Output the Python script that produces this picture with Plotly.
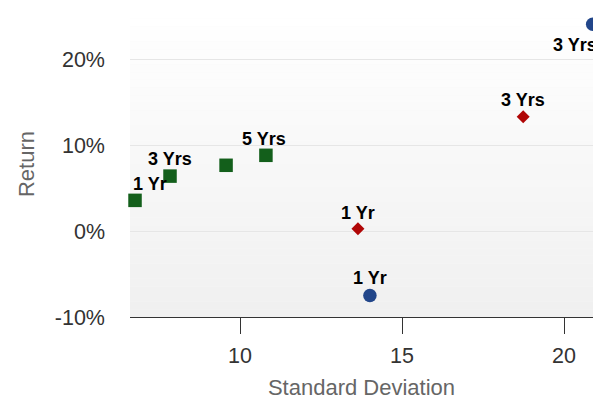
import plotly.graph_objects as go

# ---- data ----
green_x = [6.76, 7.84, 9.57, 10.80]
green_y = [3.57, 6.39, 7.65, 8.81]
green_labels = ["1 Yr", "3 Yrs", "", "5 Yrs"]

red_x = [13.64, 18.74]
red_y = [0.28, 13.3]
red_labels = ["1 Yr", "3 Yrs"]

blue_x = [14.01, 20.885]
blue_y = [-7.49, 24.06]
blue_labels = ["1 Yr", "3 Yrs"]

x_range = [6.605, 20.895]
y_range = [-10, 25.6]
y_ticks = [-10, 0, 10, 20]
y_tick_text = ["-10%", "0%", "10%", "20%"]
x_ticks = [10, 15, 20]

FONT = "Liberation Sans, Arial, sans-serif"

fig = go.Figure()

fig.add_trace(go.Scatter(x=green_x, y=green_y, mode="markers",
                         marker=dict(symbol="square", size=13.5, color="#135f1b"),
                         cliponaxis=False, showlegend=False, hoverinfo="skip"))
fig.add_trace(go.Scatter(x=red_x, y=red_y, mode="markers",
                         marker=dict(symbol="diamond", size=10, color="#b00606"),
                         cliponaxis=False, showlegend=False, hoverinfo="skip"))
fig.add_trace(go.Scatter(x=blue_x, y=blue_y, mode="markers",
                         marker=dict(symbol="circle", size=13.5, color="#22468a"),
                         cliponaxis=False, showlegend=False, hoverinfo="skip"))

# label offsets (pixels) per series
green_shift = [(15, 16), (0, 17), (0, 16), (-2, 16)]
red_shift = [(0, 16), (0, 17)]
blue_shift = [(0, 17), (-18, -21)]

annotations = []
for xs, ys, labs, shifts in [(green_x, green_y, green_labels, green_shift),
                             (red_x, red_y, red_labels, red_shift),
                             (blue_x, blue_y, blue_labels, blue_shift)]:
    for x, y, t, (dx, dy) in zip(xs, ys, labs, shifts):
        if not t:
            continue
        annotations.append(dict(x=x, y=y, xref="x", yref="y", text="<b>%s</b>" % t,
                                showarrow=False, xshift=dx, yshift=dy,
                                font=dict(family=FONT, size=18, color="#000000")))

# gradient background bands
shapes = []
n = 40
for i in range(n):
    f = i / (n - 1)
    v = int(round(240 + (255 - 240) * f))
    shapes.append(dict(type="rect", xref="paper", yref="paper",
                       x0=0, x1=1, y0=i / n, y1=(i + 1) / n,
                       fillcolor="rgb(%d,%d,%d)" % (v, v, v), line=dict(width=0),
                       layer="below"))

fig.update_layout(
    width=593, height=400,
    margin=dict(l=130, r=0, t=11, b=83, autoexpand=False),
    paper_bgcolor="#ffffff", plot_bgcolor="#f7f7f7",
    font=dict(family=FONT, color="#333333"),
    annotations=annotations, shapes=shapes,
    xaxis=dict(range=x_range, tickvals=x_ticks, ticks="outside", ticklen=16,
               tickcolor="#333333", tickwidth=1, showline=True, linecolor="#333333",
               linewidth=1, showgrid=False, zeroline=False, automargin=False,
               tickfont=dict(size=21.5, color="#333333"), ticklabelstandoff=3,
               title=dict(text="Standard Deviation", font=dict(size=22, color="#666666"),
                          standoff=19)),
    yaxis=dict(range=y_range, tickvals=y_ticks, ticktext=y_tick_text, ticks="",
               showgrid=True, gridcolor="#e6e6e6", gridwidth=1, zeroline=False,
               showline=False, tickfont=dict(size=21.5, color="#333333"),
               ticklabelstandoff=24, automargin=False,
               title=dict(text="Return", font=dict(size=22, color="#666666"),
                          standoff=14)),
)

fig.write_html("out.html", config={"displayModeBar": False},
               post_script="document.body.style.margin='0px';document.body.style.overflow='hidden';")
